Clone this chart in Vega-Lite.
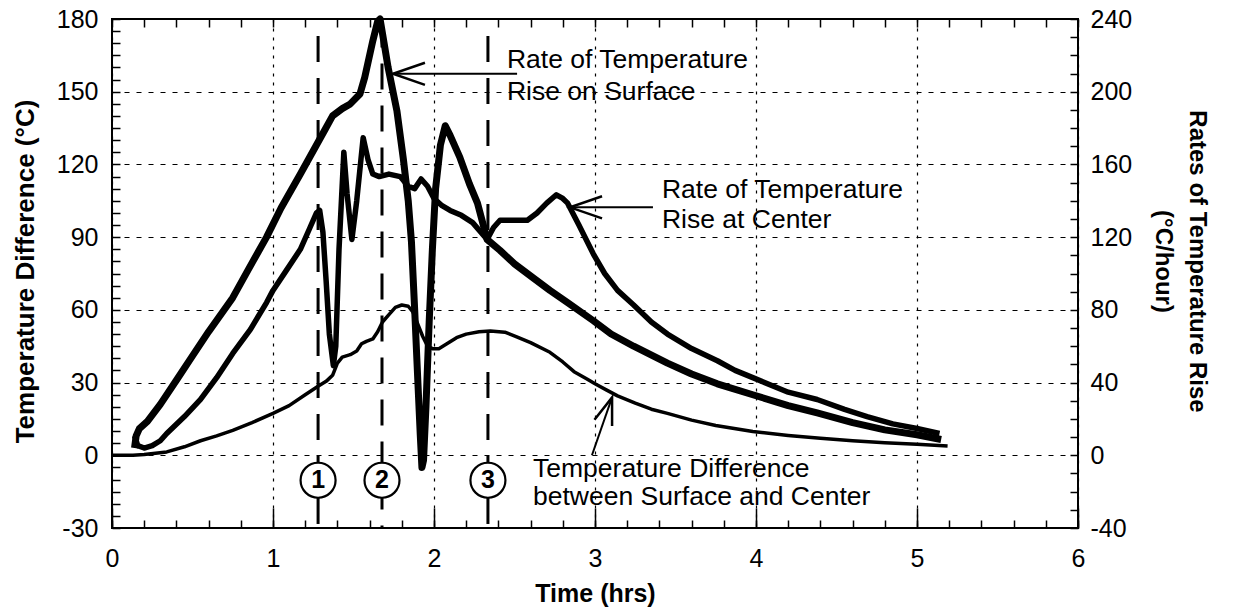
{
  "$schema": "https://vega.github.io/schema/vega-lite/v6.json",
  "autosize": {"type": "none"},
  "padding": {"left": 112, "top": 19, "right": 156, "bottom": 81},
  "width": 966,
  "height": 509,
  "background": "white",
  "config": {
    "font": "Liberation Sans",
    "view": {"stroke": "black", "strokeWidth": 2},
    "axis": {
      "domain": false,
      "labelFont": "Liberation Sans",
      "labelFontSize": 25,
      "labelColor": "black",
      "labelFlush": false,
      "labelBound": false,
      "titleFont": "Liberation Sans",
      "titleFontSize": 25,
      "titleFontWeight": "bold",
      "titleColor": "black",
      "tickColor": "black",
      "tickWidth": 1.5,
      "gridColor": "black",
      "gridOpacity": 1,
      "gridWidth": 1.2
    }
  },
  "datasets": {
    "diff": [
      {"t": 0, "d": 0}, {"t": 0.13, "d": 0}, {"t": 0.2, "d": 0.3}, {"t": 0.34, "d": 1.4}, {"t": 0.45, "d": 3.5},
      {"t": 0.55, "d": 6}, {"t": 0.65, "d": 8}, {"t": 0.75, "d": 10.3}, {"t": 0.87, "d": 13.5}, {"t": 1.0, "d": 17.3},
      {"t": 1.1, "d": 20.5}, {"t": 1.2, "d": 25}, {"t": 1.28, "d": 28.5}, {"t": 1.33, "d": 30.5}, {"t": 1.37, "d": 33},
      {"t": 1.4, "d": 38}, {"t": 1.43, "d": 40.5}, {"t": 1.48, "d": 41.5}, {"t": 1.52, "d": 43}, {"t": 1.55, "d": 46},
      {"t": 1.58, "d": 47}, {"t": 1.62, "d": 48}, {"t": 1.65, "d": 51}, {"t": 1.68, "d": 55}, {"t": 1.72, "d": 58},
      {"t": 1.76, "d": 61}, {"t": 1.8, "d": 62}, {"t": 1.84, "d": 61.5}, {"t": 1.87, "d": 59}, {"t": 1.9, "d": 54},
      {"t": 1.93, "d": 49}, {"t": 1.96, "d": 45}, {"t": 1.99, "d": 44}, {"t": 2.03, "d": 44}, {"t": 2.08, "d": 46},
      {"t": 2.14, "d": 48.5}, {"t": 2.2, "d": 50}, {"t": 2.28, "d": 51}, {"t": 2.35, "d": 51.3}, {"t": 2.44, "d": 50.8},
      {"t": 2.51, "d": 49}, {"t": 2.6, "d": 46.5}, {"t": 2.72, "d": 42.5}, {"t": 2.8, "d": 38.5}, {"t": 2.87, "d": 34.5},
      {"t": 2.95, "d": 31.5}, {"t": 3.0, "d": 29.5}, {"t": 3.07, "d": 27}, {"t": 3.14, "d": 24.5}, {"t": 3.25, "d": 21.5},
      {"t": 3.35, "d": 19}, {"t": 3.45, "d": 17.3}, {"t": 3.6, "d": 14.5}, {"t": 3.75, "d": 12.3}, {"t": 3.98, "d": 9.8},
      {"t": 4.2, "d": 8.2}, {"t": 4.4, "d": 7}, {"t": 4.6, "d": 6}, {"t": 4.8, "d": 5.2}, {"t": 5.0, "d": 4.6}, {"t": 5.19, "d": 3.8}
    ],
    "rates": [
      {"series": "Surface", "t": 0.14, "r": 4}, {"series": "Surface", "t": 0.15, "r": 10.7}, {"series": "Surface", "t": 0.17, "r": 14.7},
      {"series": "Surface", "t": 0.22, "r": 18.7}, {"series": "Surface", "t": 0.3, "r": 28}, {"series": "Surface", "t": 0.4, "r": 41.3},
      {"series": "Surface", "t": 0.5, "r": 54.7}, {"series": "Surface", "t": 0.6, "r": 68}, {"series": "Surface", "t": 0.75, "r": 86.7},
      {"series": "Surface", "t": 0.85, "r": 102.7}, {"series": "Surface", "t": 0.96, "r": 120}, {"series": "Surface", "t": 1.05, "r": 136},
      {"series": "Surface", "t": 1.17, "r": 154.7}, {"series": "Surface", "t": 1.27, "r": 170.7}, {"series": "Surface", "t": 1.32, "r": 178.7},
      {"series": "Surface", "t": 1.37, "r": 186.7}, {"series": "Surface", "t": 1.43, "r": 190.7}, {"series": "Surface", "t": 1.48, "r": 193.3},
      {"series": "Surface", "t": 1.54, "r": 198.7}, {"series": "Surface", "t": 1.57, "r": 208}, {"series": "Surface", "t": 1.62, "r": 228},
      {"series": "Surface", "t": 1.65, "r": 238.7}, {"series": "Surface", "t": 1.665, "r": 240}, {"series": "Surface", "t": 1.69, "r": 226.7},
      {"series": "Surface", "t": 1.715, "r": 213.3}, {"series": "Surface", "t": 1.77, "r": 189.3}, {"series": "Surface", "t": 1.81, "r": 162.7},
      {"series": "Surface", "t": 1.84, "r": 140}, {"series": "Surface", "t": 1.86, "r": 117.3}, {"series": "Surface", "t": 1.88, "r": 80},
      {"series": "Surface", "t": 1.9, "r": 40}, {"series": "Surface", "t": 1.915, "r": 10.7}, {"series": "Surface", "t": 1.925, "r": -6.7},
      {"series": "Surface", "t": 1.935, "r": -2.7}, {"series": "Surface", "t": 1.95, "r": 26.7}, {"series": "Surface", "t": 1.97, "r": 73.3},
      {"series": "Surface", "t": 1.99, "r": 113.3}, {"series": "Surface", "t": 2.01, "r": 146.7}, {"series": "Surface", "t": 2.04, "r": 170.7},
      {"series": "Surface", "t": 2.07, "r": 181.3}, {"series": "Surface", "t": 2.1, "r": 176}, {"series": "Surface", "t": 2.16, "r": 164},
      {"series": "Surface", "t": 2.22, "r": 149.3}, {"series": "Surface", "t": 2.27, "r": 138.7}, {"series": "Surface", "t": 2.33, "r": 118.7},
      {"series": "Surface", "t": 2.41, "r": 112.7}, {"series": "Surface", "t": 2.5, "r": 105.3}, {"series": "Surface", "t": 2.62, "r": 97.3},
      {"series": "Surface", "t": 2.72, "r": 90.7}, {"series": "Surface", "t": 2.83, "r": 84}, {"series": "Surface", "t": 2.99, "r": 74},
      {"series": "Surface", "t": 3.1, "r": 66.7}, {"series": "Surface", "t": 3.24, "r": 60}, {"series": "Surface", "t": 3.45, "r": 50.7},
      {"series": "Surface", "t": 3.6, "r": 44.7}, {"series": "Surface", "t": 3.76, "r": 39.3}, {"series": "Surface", "t": 3.98, "r": 33.3},
      {"series": "Surface", "t": 4.2, "r": 27.3}, {"series": "Surface", "t": 4.38, "r": 23.3}, {"series": "Surface", "t": 4.6, "r": 18},
      {"series": "Surface", "t": 4.8, "r": 14}, {"series": "Surface", "t": 5.0, "r": 11.3}, {"series": "Surface", "t": 5.15, "r": 8.7},
      {"series": "Center", "t": 0.14, "r": 10.7}, {"series": "Center", "t": 0.16, "r": 5.3}, {"series": "Center", "t": 0.2, "r": 4},
      {"series": "Center", "t": 0.25, "r": 5.3}, {"series": "Center", "t": 0.3, "r": 8}, {"series": "Center", "t": 0.34, "r": 12},
      {"series": "Center", "t": 0.45, "r": 21.3}, {"series": "Center", "t": 0.55, "r": 30.7}, {"series": "Center", "t": 0.65, "r": 42.7},
      {"series": "Center", "t": 0.75, "r": 56}, {"series": "Center", "t": 0.86, "r": 69.3}, {"series": "Center", "t": 0.96, "r": 84},
      {"series": "Center", "t": 1.0, "r": 90.7}, {"series": "Center", "t": 1.08, "r": 101.3}, {"series": "Center", "t": 1.17, "r": 113.3},
      {"series": "Center", "t": 1.23, "r": 125.3}, {"series": "Center", "t": 1.27, "r": 133.3}, {"series": "Center", "t": 1.29, "r": 134.7},
      {"series": "Center", "t": 1.31, "r": 122.7}, {"series": "Center", "t": 1.33, "r": 96}, {"series": "Center", "t": 1.35, "r": 66.7},
      {"series": "Center", "t": 1.375, "r": 49.3}, {"series": "Center", "t": 1.39, "r": 60}, {"series": "Center", "t": 1.41, "r": 113.3},
      {"series": "Center", "t": 1.44, "r": 166.7}, {"series": "Center", "t": 1.46, "r": 144}, {"series": "Center", "t": 1.49, "r": 118.7},
      {"series": "Center", "t": 1.52, "r": 140}, {"series": "Center", "t": 1.56, "r": 174.7}, {"series": "Center", "t": 1.59, "r": 162.7},
      {"series": "Center", "t": 1.62, "r": 154.7}, {"series": "Center", "t": 1.66, "r": 153.3}, {"series": "Center", "t": 1.72, "r": 154.7},
      {"series": "Center", "t": 1.79, "r": 153.3}, {"series": "Center", "t": 1.84, "r": 148}, {"series": "Center", "t": 1.88, "r": 146.7},
      {"series": "Center", "t": 1.92, "r": 152}, {"series": "Center", "t": 1.96, "r": 148}, {"series": "Center", "t": 2.0, "r": 141.3},
      {"series": "Center", "t": 2.05, "r": 137.3}, {"series": "Center", "t": 2.1, "r": 134.7}, {"series": "Center", "t": 2.17, "r": 132},
      {"series": "Center", "t": 2.24, "r": 128}, {"series": "Center", "t": 2.33, "r": 118.7}, {"series": "Center", "t": 2.37, "r": 125.3},
      {"series": "Center", "t": 2.41, "r": 129.3}, {"series": "Center", "t": 2.5, "r": 129.3}, {"series": "Center", "t": 2.58, "r": 129.3},
      {"series": "Center", "t": 2.64, "r": 133.3}, {"series": "Center", "t": 2.7, "r": 138.7}, {"series": "Center", "t": 2.76, "r": 143.3},
      {"series": "Center", "t": 2.8, "r": 141.3}, {"series": "Center", "t": 2.83, "r": 138.7}, {"series": "Center", "t": 2.9, "r": 126.7},
      {"series": "Center", "t": 2.99, "r": 110.7}, {"series": "Center", "t": 3.06, "r": 100}, {"series": "Center", "t": 3.14, "r": 90.7},
      {"series": "Center", "t": 3.24, "r": 82.7}, {"series": "Center", "t": 3.35, "r": 73.3}, {"series": "Center", "t": 3.45, "r": 66.7},
      {"series": "Center", "t": 3.6, "r": 58.7}, {"series": "Center", "t": 3.76, "r": 52}, {"series": "Center", "t": 3.87, "r": 46.7},
      {"series": "Center", "t": 3.98, "r": 42.7}, {"series": "Center", "t": 4.2, "r": 34.7}, {"series": "Center", "t": 4.38, "r": 30.7},
      {"series": "Center", "t": 4.55, "r": 25.3}, {"series": "Center", "t": 4.69, "r": 21.3}, {"series": "Center", "t": 4.85, "r": 17.3},
      {"series": "Center", "t": 5.0, "r": 14.7}, {"series": "Center", "t": 5.14, "r": 12}
    ],
    "events": [
      {"label": "1", "t": 1.28, "top": 173},
      {"label": "2", "t": 1.677, "top": 179},
      {"label": "3", "t": 2.335, "top": 173}
    ],
    "notes": [
      {"text": "Rate of Temperature", "t": 2.453, "v": 159.7},
      {"text": "Rise on Surface", "t": 2.453, "v": 146.4},
      {"text": "Rate of Temperature", "t": 3.416, "v": 106},
      {"text": "Rise at Center", "t": 3.416, "v": 93.6},
      {"text": "Temperature Difference", "t": 2.615, "v": -9.1},
      {"text": "between Surface and Center", "t": 2.615, "v": -20.6}
    ],
    "arrows": [
      {"name": "surface", "t": 1.745, "v": 157.4, "t2": 2.516, "v2": 157.4},
      {"name": "center", "t": 2.845, "v": 102.3, "t2": 3.36, "v2": 102.3},
      {"name": "diff", "t": 3.106, "v": 23.9, "t2": 2.981, "v2": 0}
    ]
  },
  "resolve": {
    "scale": {"y": "independent"},
    "axis": {"x": "independent", "y": "independent"}
  },
  "layer": [
    {
      "data": {"name": "diff"},
      "mark": {"type": "line", "color": "black", "strokeWidth": 3.5, "strokeJoin": "round"},
      "encoding": {
        "x": {"field": "t", "type": "quantitative", "scale": {"domain": [0, 6], "nice": false},
          "axis": {"orient": "bottom", "values": [0, 1, 2, 3, 4, 5, 6], "ticks": false, "grid": true, "gridDash": [3, 6],
            "labelPadding": 18, "title": "Time (hrs)", "titleY": 53}},
        "y": {"field": "d", "type": "quantitative", "scale": {"domain": [-30, 180], "nice": false, "zero": false},
          "axis": {"orient": "left", "values": [-30, 0, 30, 60, 90, 120, 150, 180], "ticks": false, "grid": true, "gridDash": [5, 7],
            "labelPadding": 14, "labelExpr": "datum.value < 0 ? '-' + abs(datum.value) : '' + datum.value",
            "title": "Temperature Difference (°C)", "titleFontSize": 26, "titleX": -74, "titleY": 252}}
      }
    },
    {
      "data": {"name": "rates"},
      "mark": {"type": "line", "color": "black", "strokeJoin": "round"},
      "encoding": {
        "x": {"field": "t", "type": "quantitative", "scale": {"domain": [0, 6], "nice": false},
          "axis": {"orient": "top", "values": [0,0.2,0.4,0.6,0.8,1,1.2,1.4,1.6,1.8,2,2.2,2.4,2.6,2.8,3,3.2,3.4,3.6,3.8,4,4.2,4.4,4.6,4.8,5,5.2,5.4,5.6,5.8,6],
            "tickSize": -8, "labels": false, "grid": false, "title": null}},
        "y": {"field": "r", "type": "quantitative", "scale": {"domain": [-40, 240], "nice": false, "zero": false},
          "axis": {"orient": "right", "values": [-40, 0, 40, 80, 120, 160, 200, 240], "ticks": false, "grid": false,
            "labelPadding": 12, "labelExpr": "datum.value < 0 ? '-' + abs(datum.value) : '' + datum.value",
            "title": ["Rates of Temperature Rise", "(°C/hour)"], "titleFontSize": 24, "titleX": 106, "titleY": 242, "titleLineHeight": 34}},
        "detail": {"field": "series"},
        "strokeWidth": {"field": "series", "type": "nominal", "scale": {"domain": ["Surface", "Center"], "range": [7, 5.5]}, "legend": null}
      }
    },
    {
      "data": {"name": "events"},
      "mark": {"type": "rule", "color": "black", "strokeWidth": 3, "strokeDash": [26, 16]},
      "encoding": {
        "x": {"field": "t", "type": "quantitative", "scale": {"domain": [0, 6], "nice": false},
          "axis": {"orient": "bottom", "values": [0,0.2,0.4,0.6,0.8,1,1.2,1.4,1.6,1.8,2,2.2,2.4,2.6,2.8,3,3.2,3.4,3.6,3.8,4,4.2,4.4,4.6,4.8,5,5.2,5.4,5.6,5.8,6],
            "tickSize": -8, "labels": false, "grid": false, "title": null}},
        "y": {"field": "top", "type": "quantitative", "scale": {"domain": [-30, 180], "nice": false, "zero": false},
          "axis": {"orient": "left", "values": [-30,-25,-20,-15,-10,-5,0,5,10,15,20,25,30,35,40,45,50,55,60,65,70,75,80,85,90,95,100,105,110,115,120,125,130,135,140,145,150,155,160,165,170,175,180],
            "tickSize": -8, "labels": false, "grid": false, "title": null}},
        "y2": {"datum": -30}
      }
    },
    {
      "data": {"name": "events"},
      "mark": {"type": "point", "shape": "circle", "size": 1225, "filled": true, "fill": "white", "stroke": "black", "strokeWidth": 2.2, "opacity": 1},
      "encoding": {
        "x": {"field": "t", "type": "quantitative", "scale": {"domain": [0, 6], "nice": false},
          "axis": {"orient": "bottom", "values": [0, 1, 2, 3, 4, 5, 6], "tickSize": -20, "labels": false, "grid": false, "title": null}},
        "y": {"datum": -10.3, "type": "quantitative", "scale": {"domain": [-30, 180], "nice": false, "zero": false},
          "axis": {"orient": "right", "values": [-30,-22.5,-15,-7.5,0,7.5,15,22.5,30,37.5,45,52.5,60,67.5,75,82.5,90,97.5,105,112.5,120,127.5,135,142.5,150,157.5,165,172.5,180],
            "tickSize": -8, "labels": false, "grid": false, "title": null}}
      }
    },
    {
      "data": {"name": "events"},
      "mark": {"type": "text", "fontSize": 25, "fontWeight": "bold", "align": "center", "baseline": "middle", "color": "black"},
      "encoding": {
        "x": {"field": "t", "type": "quantitative", "scale": {"domain": [0, 6], "nice": false}, "axis": null},
        "y": {"datum": -10.3, "type": "quantitative", "scale": {"domain": [-30, 180], "nice": false, "zero": false}, "axis": null},
        "text": {"field": "label"}
      }
    },
    {
      "data": {"name": "notes"},
      "mark": {"type": "text", "fontSize": 26.5, "align": "left", "baseline": "alphabetic", "color": "black"},
      "encoding": {
        "x": {"field": "t", "type": "quantitative", "scale": {"domain": [0, 6], "nice": false}, "axis": null},
        "y": {"field": "v", "type": "quantitative", "scale": {"domain": [-30, 180], "nice": false, "zero": false}, "axis": null},
        "text": {"field": "text"}
      }
    },
    {
      "data": {"name": "arrows"},
      "mark": {"type": "rule", "color": "black", "strokeWidth": 2},
      "encoding": {
        "x": {"field": "t", "type": "quantitative", "scale": {"domain": [0, 6], "nice": false}, "axis": null},
        "y": {"field": "v", "type": "quantitative", "scale": {"domain": [-30, 180], "nice": false, "zero": false}, "axis": null},
        "x2": {"field": "t2"},
        "y2": {"field": "v2"}
      }
    },
    {
      "data": {"name": "arrows"},
      "transform": [{"filter": "datum.name != 'diff'"}],
      "mark": {"type": "point", "shape": "M2,-0.69 L0,0 L2,0.69", "size": 1024, "filled": false, "stroke": "black", "strokeWidth": 2.5, "opacity": 1},
      "encoding": {
        "x": {"field": "t", "type": "quantitative", "scale": {"domain": [0, 6], "nice": false}, "axis": null},
        "y": {"field": "v", "type": "quantitative", "scale": {"domain": [-30, 180], "nice": false, "zero": false}, "axis": null}
      }
    },
    {
      "data": {"name": "arrows"},
      "transform": [{"filter": "datum.name == 'diff'"}],
      "mark": {"type": "point", "shape": "M2,-0.69 L0,0 L2,0.69", "size": 729, "angle": 109, "filled": false, "stroke": "black", "strokeWidth": 2.5, "opacity": 1},
      "encoding": {
        "x": {"field": "t", "type": "quantitative", "scale": {"domain": [0, 6], "nice": false}, "axis": null},
        "y": {"field": "v", "type": "quantitative", "scale": {"domain": [-30, 180], "nice": false, "zero": false}, "axis": null}
      }
    }
  ]
}
